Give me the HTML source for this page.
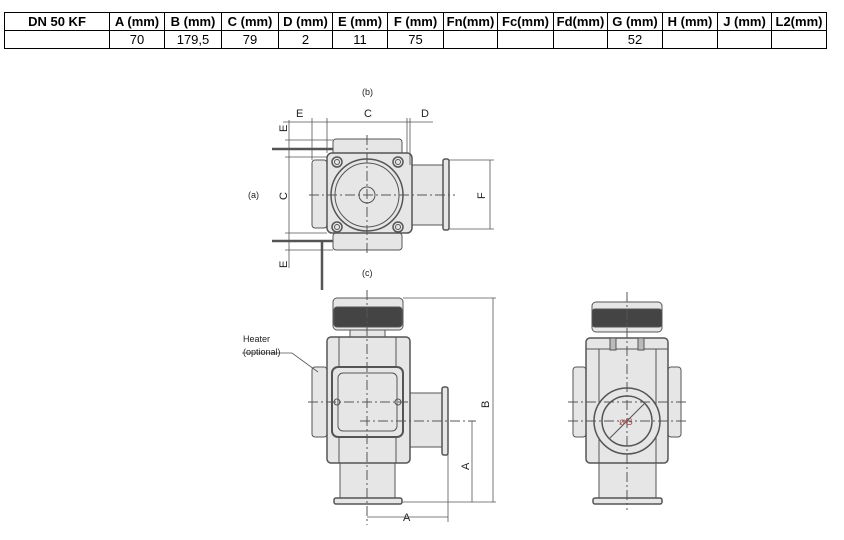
<!DOCTYPE html>
<html><head><meta charset="utf-8"><style>
body{margin:0;background:#fff;width:844px;height:540px;overflow:hidden;font-family:"Liberation Sans",Arial,sans-serif}
table{position:absolute;left:4px;top:12px;border-collapse:collapse;font-size:13px}
td{border:1px solid #000;height:17px;padding:0;text-align:center;line-height:17px}
tr.h td{font-weight:bold}
svg{position:absolute;left:0;top:0}
</style></head><body>
<table>
<tr class="h"><td style="width:104px">DN 50 KF</td><td style="width:54px">A (mm)</td><td style="width:56px">B (mm)</td><td style="width:56px">C (mm)</td><td style="width:53px">D (mm)</td><td style="width:54px">E (mm)</td><td style="width:55px">F (mm)</td><td style="width:53px">Fn(mm)</td><td style="width:55px">Fc(mm)</td><td style="width:53px">Fd(mm)</td><td style="width:54px">G (mm)</td><td style="width:54px">H (mm)</td><td style="width:53px">J (mm)</td><td style="width:54px">L2(mm)</td></tr>
<tr><td></td><td>70</td><td>179,5</td><td>79</td><td>2</td><td>11</td><td>75</td><td></td><td></td><td></td><td>52</td><td></td><td></td><td></td></tr>
</table>
<svg width="844" height="540" viewBox="0 0 844 540" font-family="Liberation Sans,Arial,sans-serif" font-size="9" fill="none" stroke="#555" stroke-width="1">
<!-- TOP VIEW -->
<g>
<rect x="333" y="139" width="69" height="16" rx="3" fill="#e6e6e6"/>
<rect x="333" y="233" width="69" height="17" rx="3" fill="#e6e6e6"/>
<rect x="312" y="160" width="15" height="68" rx="3" fill="#e6e6e6"/>
<rect x="410" y="165" width="33" height="60" fill="#e6e6e6"/>
<rect x="443" y="159" width="6" height="71" rx="2" fill="#e6e6e6" stroke-width="1.5"/>
<rect x="327" y="153" width="85" height="80" rx="5" fill="#e6e6e6" stroke-width="1.5"/>
<circle cx="367" cy="195" r="36" fill="#e6e6e6" stroke-width="1.5"/>
<circle cx="367" cy="195" r="32"/>
<circle cx="367" cy="195" r="8"/>
<circle cx="337" cy="162" r="5" stroke-width="1.5"/><circle cx="337" cy="162" r="2.5"/>
<circle cx="398" cy="162" r="5" stroke-width="1.5"/><circle cx="398" cy="162" r="2.5"/>
<circle cx="337" cy="227" r="5" stroke-width="1.5"/><circle cx="337" cy="227" r="2.5"/>
<circle cx="398" cy="227" r="5" stroke-width="1.5"/><circle cx="398" cy="227" r="2.5"/>
<line x1="309" y1="195" x2="455" y2="195" stroke-dasharray="10,3,2,3"/>
<line x1="367" y1="135" x2="367" y2="255" stroke-dasharray="10,3,2,3"/>
<!-- rods -->
<line x1="272" y1="149" x2="333" y2="149" stroke-width="2.5"/>
<line x1="272" y1="241" x2="333" y2="241" stroke-width="2.5"/>
<line x1="322" y1="240" x2="322" y2="290" stroke-width="2.5"/>
<!-- dims -->
<line x1="283" y1="122" x2="433" y2="122" stroke-width="0.8"/>
<line x1="312" y1="118" x2="312" y2="160" stroke-width="0.8"/>
<line x1="327" y1="118" x2="327" y2="153" stroke-width="0.8"/>
<line x1="407" y1="118" x2="407" y2="153" stroke-width="0.8"/>
<line x1="410" y1="118" x2="410" y2="165" stroke-width="0.8"/>
<line x1="289" y1="120" x2="289" y2="268" stroke-width="0.8"/>
<line x1="285" y1="140" x2="333" y2="140" stroke-width="0.8"/>
<line x1="285" y1="157" x2="327" y2="157" stroke-width="0.8"/>
<line x1="285" y1="233" x2="327" y2="233" stroke-width="0.8"/>
<line x1="285" y1="250" x2="333" y2="250" stroke-width="0.8"/>
<line x1="449" y1="160" x2="494" y2="160" stroke-width="0.8"/>
<line x1="449" y1="229" x2="494" y2="229" stroke-width="0.8"/>
<line x1="490" y1="160" x2="490" y2="229" stroke-width="0.8"/>
<g fill="#222" stroke="none">
<text x="362" y="95">(b)</text>
<text x="362" y="276">(c)</text>
<text x="248" y="198">(a)</text>
<text x="296" y="117" font-size="11">E</text>
<text x="364" y="117" font-size="11">C</text>
<text x="421" y="117" font-size="11">D</text>
<text font-size="11" transform="translate(287,132) rotate(-90)">E</text>
<text font-size="11" transform="translate(287,200) rotate(-90)">C</text>
<text font-size="11" transform="translate(287,268) rotate(-90)">E</text>
<text font-size="11" transform="translate(485,199) rotate(-90)">F</text>
</g>
</g>
<!-- SIDE VIEW -->
<g>
<rect x="333" y="298" width="70" height="32" rx="4" fill="#e6e6e6"/>
<rect x="334" y="307" width="68" height="20" rx="3" fill="#444"/>
<rect x="350" y="330" width="35" height="7" fill="#e6e6e6"/>
<rect x="312" y="367" width="15" height="70" rx="3" fill="#e6e6e6"/>
<rect x="410" y="393" width="32" height="54" fill="#e6e6e6"/>
<rect x="442" y="387" width="6" height="68" rx="2" fill="#e6e6e6" stroke-width="1.5"/>
<rect x="340" y="463" width="55" height="35" fill="#e6e6e6"/>
<rect x="334" y="498" width="68" height="6" rx="2" fill="#e6e6e6" stroke-width="1.5"/>
<rect x="327" y="337" width="83" height="126" rx="4" fill="#e6e6e6" stroke-width="1.5"/>
<line x1="339" y1="337" x2="339" y2="463"/><line x1="396" y1="337" x2="396" y2="463"/>
<rect x="332" y="367" width="71" height="70" rx="6" fill="#e6e6e6" stroke-width="2"/>
<rect x="338" y="373" width="59" height="58" rx="5"/>
<circle cx="337" cy="402" r="3"/><circle cx="398" cy="402" r="3"/>
<line x1="367" y1="290" x2="367" y2="525" stroke-dasharray="10,3,2,3"/>
<line x1="308" y1="402" x2="410" y2="402" stroke-dasharray="10,3,2,3"/>
<line x1="360" y1="421" x2="476" y2="421" stroke-dasharray="10,3,2,3"/>
<line x1="403" y1="298" x2="496" y2="298" stroke-width="0.8"/>
<line x1="402" y1="502" x2="496" y2="502" stroke-width="0.8"/>
<line x1="493" y1="298" x2="493" y2="502" stroke-width="0.8"/>
<line x1="472" y1="421" x2="472" y2="502" stroke-width="0.8"/>
<line x1="448" y1="421" x2="448" y2="522" stroke-width="0.8"/>
<line x1="367" y1="517" x2="448" y2="517" stroke-width="0.8"/>
<polyline points="242,353 292,353 318,372" stroke-width="0.8"/>
<g fill="#222" stroke="none">
<text x="243" y="342">Heater</text>
<text x="243" y="355">(optional)</text>
<text x="403" y="521" font-size="11">A</text>
<text font-size="11" transform="translate(469,470) rotate(-90)">A</text>
<text font-size="11" transform="translate(489,408) rotate(-90)">B</text>
</g>
</g>
<!-- FRONT VIEW -->
<g>
<rect x="592" y="302" width="70" height="30" rx="4" fill="#e6e6e6"/>
<rect x="592" y="309" width="70" height="18" rx="3" fill="#444"/>
<rect x="573" y="367" width="13" height="70" rx="3" fill="#e6e6e6"/>
<rect x="668" y="367" width="13" height="70" rx="3" fill="#e6e6e6"/>
<rect x="599" y="463" width="57" height="35" fill="#e6e6e6"/>
<rect x="593" y="498" width="69" height="6" rx="2" fill="#e6e6e6" stroke-width="1.5"/>
<rect x="586" y="338" width="82" height="125" rx="4" fill="#e6e6e6" stroke-width="1.5"/>
<line x1="586" y1="349" x2="668" y2="349"/>
<line x1="599" y1="349" x2="599" y2="463"/><line x1="656" y1="349" x2="656" y2="463"/>
<rect x="610" y="338" width="6" height="12" fill="#bbb"/><rect x="638" y="338" width="6" height="12" fill="#bbb"/>
<circle cx="627" cy="421" r="33" fill="#e6e6e6" stroke-width="1.5"/>
<circle cx="627" cy="421" r="25" stroke-width="1.5"/>
<line x1="610" y1="438" x2="644" y2="404"/>
<line x1="627" y1="292" x2="627" y2="510" stroke-dasharray="10,3,2,3"/>
<line x1="568" y1="402" x2="686" y2="402" stroke-dasharray="10,3,2,3"/>
<line x1="568" y1="421" x2="686" y2="421" stroke-dasharray="10,3,2,3"/>
<text x="619" y="425" fill="#a55" stroke="none" font-size="10">øG</text>
</g>
</svg>
</body></html>
